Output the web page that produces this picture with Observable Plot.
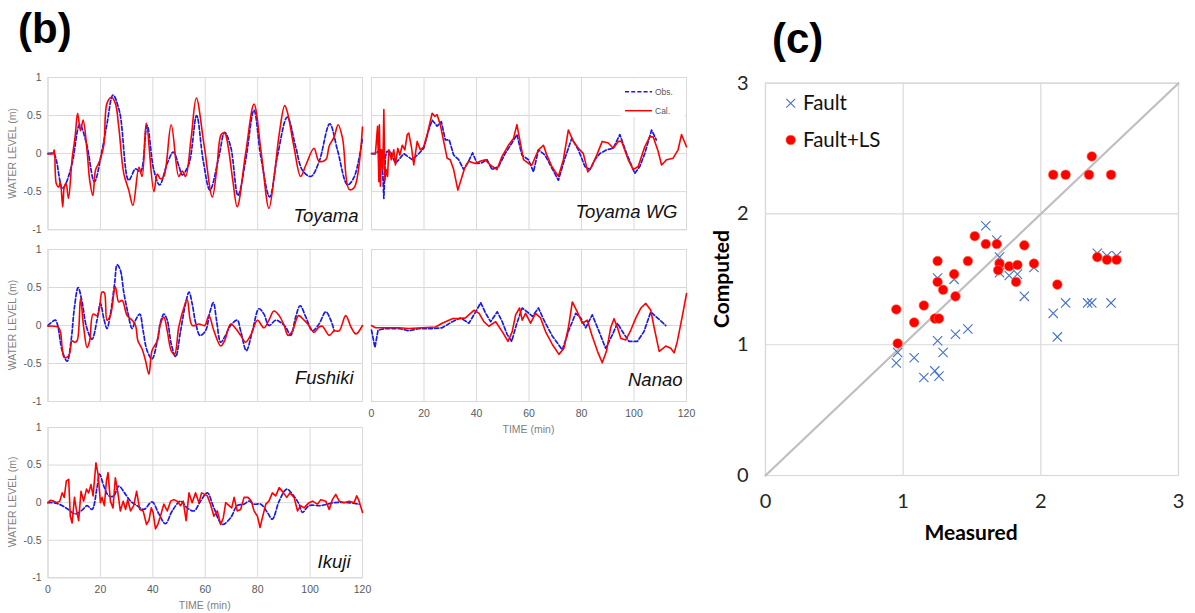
<!DOCTYPE html>
<html><head><meta charset="utf-8">
<script src="https://cdn.jsdelivr.net/npm/d3@7"></script>
<script src="https://cdn.jsdelivr.net/npm/@observablehq/plot@0.6"></script>
<style>
html,body{margin:0;padding:0;background:#fff;}
#root{position:relative;width:1195px;height:613px;overflow:hidden;background:#fff;}
#root > svg{position:absolute;}
</style></head><body><div id="root"></div>
<script>
// ---------- data ----------
const timeTicks = [0, 20, 40, 60, 80, 100, 120];
const levelTicks = [-1, -0.5, 0, 0.5, 1];
const scatterTicks = [0, 1, 2, 3];
const stationNames = ["Toyama", "Toyama WG", "Fushiki", "Nanao", "Ikuji"];
const seriesNames = ["Obs.", "Cal."];
const scatterNames = ["Fault", "Fault+LS"];

const toyamaObs = [[0,0],[2.2,0],[3.2,-0.09],[4.5,-0.35],[5.4,-0.46],[6.6,-0.41],[9.2,-0.13],[12.1,0.38],[14.7,0.13],[17.7,-0.37],[20.6,0.04],[22.5,0.39],[24.8,0.77],[27.3,0.55],[30.8,-0.35],[33.4,-0.2],[35.3,-0.24],[37.8,0.37],[40.4,-0.22],[42.6,-0.41],[45.5,-0.13],[47.8,0.02],[50,-0.17],[51.2,-0.28],[53.8,-0.13],[56.7,0.5],[59.2,-0.09],[61.8,-0.48],[65.2,-0.04],[67.4,0.28],[69.7,0.09],[72.5,-0.55],[75.4,-0.09],[78.6,0.57],[81.2,-0.04],[84.6,-0.57],[87.5,-0.04],[91.3,0.48],[94.5,0.09],[97.1,-0.22],[100.3,-0.3],[103.4,-0.11],[107.5,0.39],[110.5,0.04],[114.3,-0.41],[116.8,-0.31],[120,0.2]];
const toyamaCal = [[0,0],[1.9,0],[2.4,0.05],[3.2,-0.4],[4.1,-0.44],[4.7,-0.37],[5.6,-0.7],[6.2,-0.44],[6.9,-0.39],[7.8,-0.59],[9.2,-0.07],[10.4,0.24],[11.3,0.53],[12.4,0.3],[13.4,0.44],[14.9,0.04],[15.9,-0.35],[17.1,-0.55],[18.1,-0.22],[19,-0.15],[20,-0.07],[21.3,0.11],[22.5,0.66],[24.2,0.74],[25.7,0.66],[27,0.35],[28.9,-0.26],[30.8,-0.48],[32.4,-0.68],[34.7,-0.18],[35.9,-0.3],[37.5,0.4],[40.4,-0.5],[41.7,-0.27],[42.9,-0.33],[44.2,-0.3],[47,0.38],[49.9,-0.3],[51.2,-0.23],[52.5,-0.3],[54.6,0.2],[56.6,0.73],[59.6,0.1],[62.7,-0.57],[64.4,-0.2],[66.1,0.25],[67.4,0.27],[68.7,0.1],[70.5,-0.35],[72.2,-0.7],[75.4,0],[78.6,0.65],[81.4,0],[84.3,-0.72],[86.3,-0.3],[88.2,0.25],[90.3,0.63],[91.3,0.55],[93.8,0.1],[96.4,-0.3],[98.4,-0.15],[101.5,0.07],[103.4,-0.1],[106,-0.08],[107.3,0.1],[109.2,0.22],[110.7,0.38],[112.4,0.2],[114.9,-0.47],[116.8,-0.45],[120,0.35]];

const wgObs = [[0,0],[1.5,0],[3.4,0.05],[4.1,-0.13],[4.7,-0.59],[5.3,-0.04],[5.9,0.03],[7.2,0.03],[9.1,-0.13],[10.4,-0.08],[12.3,0],[15.5,-0.08],[18,0],[19.9,0.07],[21.8,0.31],[23.1,0.44],[25,0.36],[26.6,0.42],[28.1,0.18],[29.6,0.18],[31.3,-0.02],[33.2,-0.08],[35.1,-0.21],[37,-0.1],[38.5,0.01],[40.2,-0.13],[42.1,-0.12],[44,-0.08],[45.9,-0.21],[48.4,-0.17],[50.9,0],[53.5,0.14],[55.4,0.25],[57.3,-0.02],[59.8,-0.08],[61.7,-0.24],[63.6,0.05],[66.1,-0.02],[68.7,-0.19],[71.2,-0.35],[73.5,-0.08],[76.3,0.2],[78.8,0.05],[81.3,-0.17],[83.2,-0.21],[85.1,-0.08],[87,0],[89.6,0.05],[92.1,0.07],[94.6,0.25],[97.2,0],[100.3,-0.26],[102.2,-0.17],[104.1,0],[106.7,0.31],[108.5,0.18]];
const wgCal = [[0,0],[1.5,0],[2.3,0.36],[2.8,-0.37],[3,0.38],[3.4,-0.43],[3.8,0.05],[4.3,-0.21],[4.7,0.58],[5.1,-0.35],[5.6,-0.21],[6.1,-0.3],[6.6,0.05],[7.6,-0.08],[8.5,0.05],[9.1,-0.15],[10,0.07],[10.8,-0.02],[11.7,0.11],[12.7,0.05],[13.6,0.25],[14.2,0.27],[15.2,0.09],[16.1,-0.15],[17.4,0.16],[18.6,0.05],[19.9,0.09],[21.2,0.25],[23.1,0.53],[24.1,0.49],[25,0.51],[26.2,0.38],[27.5,0.16],[28.8,-0.06],[30,-0.08],[31.3,-0.21],[32.9,-0.48],[34.5,-0.3],[35.5,-0.19],[37,-0.1],[39.5,-0.13],[41.4,-0.1],[43.3,-0.08],[45.2,-0.15],[47.8,-0.21],[49.7,-0.04],[52.2,0.11],[54.1,0.2],[55.4,0.38],[56.6,0.16],[57.9,-0.08],[59.8,-0.13],[61.1,-0.15],[63.6,0.05],[65.5,0.11],[66.8,-0.02],[68.7,-0.17],[71.2,-0.3],[73.1,-0.08],[75,0.31],[76.9,0.16],[78.8,0.07],[80.7,0],[82.4,-0.24],[83.9,-0.17],[85.8,-0.02],[87.9,0.16],[90.2,0.14],[92.1,0.07],[94,0.16],[95.3,0.16],[97.8,-0.08],[99.7,-0.21],[101.6,-0.17],[104.1,0.09],[106,0.22],[107.3,0.22],[109.2,0.03],[110.5,-0.15],[112.4,-0.08],[114.9,-0.06],[116.8,0.05],[118.1,0.25],[120,0.09]];

const fushikiObs = [[0,0],[2.8,0.07],[3.7,0],[5.4,-0.33],[7.3,-0.47],[8.8,-0.2],[10.1,0.24],[11.5,0.5],[13,0.31],[14.7,-0.02],[16.8,-0.18],[18.7,0.07],[20,0.29],[21.3,0.09],[22.5,-0.04],[23.8,0.15],[25.4,0.55],[26.4,0.8],[27.6,0.73],[28.9,0.44],[30.4,0.18],[32.1,-0.04],[33.4,0.07],[35,0.15],[36.3,-0.07],[37.8,-0.33],[39.7,-0.44],[41.7,-0.2],[42.9,0.04],[44.2,0.15],[45.5,0.07],[47,-0.24],[48.7,-0.41],[50.6,-0.07],[52.5,0.29],[53.8,0.44],[55,0.29],[56.3,0.04],[58,-0.13],[60.1,-0.07],[61.8,0.18],[63.1,0.3],[64.3,0.07],[65.9,-0.22],[67.4,-0.15],[69.7,0],[72.2,0.07],[73.5,-0.07],[75.7,-0.33],[78,-0.07],[80.5,0.22],[82.4,0.15],[84.3,0],[86.9,0.07],[88.8,0.04],[90.7,-0.02],[92.6,-0.13],[94.5,0.11],[96.2,0.26],[98.4,0.11],[100.9,-0.07],[103.4,0.02],[106,0.18],[107.9,0.07],[109.2,-0.07]];
const fushikiCal = [[0,-0.01],[4.1,-0.03],[5.4,-0.29],[6.2,-0.42],[7.9,-0.4],[9.2,-0.2],[10.1,-0.22],[11.1,-0.2],[12.4,0.35],[13.6,-0.02],[14.9,-0.29],[15.9,-0.2],[17.2,0.15],[18.7,0.13],[19.7,0.24],[20.6,0.44],[21.5,0.43],[22.5,0.07],[23.8,0.13],[25.7,0.51],[27,0.31],[28.3,0.33],[30.2,0.13],[32.1,0.07],[33.4,0],[34.3,-0.2],[35.9,-0.31],[37.2,-0.46],[38.5,-0.64],[39.7,-0.33],[41.7,-0.2],[42.9,0.02],[44.2,0.11],[45.5,-0.07],[47,-0.33],[48.3,-0.38],[49.9,-0.02],[51.9,0.24],[53.1,0.34],[55,0],[57.6,0.02],[59.8,0],[61.4,0.13],[63.3,-0.07],[65.9,-0.27],[67.4,-0.2],[69.7,0.02],[71.6,-0.04],[73.5,-0.13],[75.4,-0.22],[77.6,-0.11],[79.9,0.07],[82.4,-0.03],[84.3,0.07],[86.2,0.19],[88.2,0.13],[90.1,0],[91.6,-0.13],[93.3,-0.07],[95.6,0.13],[97.7,0.07],[99.6,0],[101.5,-0.09],[103.4,-0.02],[104.7,-0.01],[107.3,-0.13],[109.2,-0.07],[111.1,-0.07],[113.6,0.13],[115.6,-0.02],[117.5,-0.11],[120,0]];

const nanaoObs = [[0,-0.06],[1.3,-0.29],[2.5,-0.06],[5.3,-0.04],[10.4,-0.04],[14.2,-0.07],[18,-0.04],[23.1,-0.04],[26.9,-0.03],[30.8,0.05],[33.9,0.1],[37.1,0.03],[39.7,0.18],[41.6,0.3],[43.5,0.16],[45.4,0.05],[47.9,0.18],[49.8,0.05],[51.7,-0.12],[53.4,-0.21],[55.2,0.01],[57.4,0.23],[59.3,0.18],[61.3,0.12],[63.6,0.23],[65.7,0.07],[68.9,-0.14],[72.7,-0.32],[75.2,-0.06],[77.8,0.16],[79.7,0.1],[81.6,-0.03],[84.1,0.14],[86.7,-0.08],[89.2,-0.3],[91.8,-0.12],[93.7,0.03],[95.6,-0.08],[98.1,-0.21],[101.3,-0.21],[103.8,-0.08],[106.4,0.18],[108.9,0.1],[112.1,0]];
const nanaoCal = [[0,0],[1.5,-0.03],[5.3,-0.03],[10.4,-0.03],[14.2,-0.04],[19.3,-0.03],[24.4,-0.02],[26.9,0.03],[30.8,0.09],[33.9,0.09],[35.8,0.1],[39,0.2],[41,0.16],[42.8,0.05],[44.7,-0.01],[47.3,0.05],[49.8,-0.08],[52,-0.21],[53.6,-0.08],[54.9,0.14],[56.4,0.23],[57.4,0.07],[58.7,0.16],[60.6,0.03],[62.5,0.16],[64.4,0.1],[66.3,-0.08],[68.9,-0.25],[71.4,-0.38],[73.3,-0.3],[75,-0.03],[76.5,0.31],[78.4,0.18],[80.3,0.03],[82.2,0.07],[84.1,-0.14],[86.1,-0.34],[87.9,-0.49],[89.5,-0.34],[91.1,-0.03],[92.4,0.09],[93.7,-0.03],[95,-0.17],[96.9,-0.19],[98.8,-0.06],[100.7,0.1],[102.6,0.23],[104.5,0.29],[106.4,0.2],[107.7,-0.03],[109.6,-0.34],[112.1,-0.27],[114,-0.3],[115.3,-0.36],[116.5,-0.21],[118.5,0.14],[120,0.42]];

const ikujiObs = [[0,0],[3.4,-0.01],[7.3,-0.08],[10.4,-0.15],[13,-0.1],[14.9,-0.04],[16.8,-0.09],[18.7,0.2],[19.7,0.38],[21.3,0.22],[23.2,0.09],[25.1,0.09],[27,0.22],[29.2,0.13],[31.5,0.02],[34,-0.04],[36.6,-0.09],[39.7,0.01],[42.3,-0.15],[44.8,-0.28],[47.4,-0.11],[50.6,0.02],[53.1,-0.07],[55.7,-0.11],[58.2,0.02],[60.8,0.13],[63.3,-0.07],[66.5,-0.29],[69.7,-0.2],[72.2,-0.04],[74.8,-0.02],[76.7,0.02],[78.6,-0.02],[81.2,-0.02],[83.7,-0.13],[85.6,-0.22],[88.2,0.02],[91.1,0.18],[93.3,0.11],[95.8,-0.02],[97.1,-0.13],[99.6,-0.04],[104.1,-0.04],[109.2,0],[114.3,0],[118.7,-0.02]];
const ikujiCal = [[0,0],[0.9,0.03],[2.2,0.02],[3.4,0],[4.5,0.02],[5.4,0.13],[6.2,0.07],[7,0.29],[7.9,0.31],[8.5,-0.18],[9.2,-0.27],[10.1,0.07],[10.8,-0.09],[11.7,-0.24],[12.6,0.15],[13.6,0.02],[14.7,0.18],[15.5,0.13],[16.4,0.24],[17.2,0.09],[18.3,0.53],[19.1,0.38],[20,0],[20.6,0.07],[21.5,-0.04],[22.3,0.29],[22.9,0.4],[23.8,0.02],[24.8,-0.07],[25.7,0.33],[26.6,0.15],[27.6,-0.11],[28.7,0.02],[29.6,-0.09],[30.4,0.04],[31.5,-0.11],[32.7,-0.04],[33.8,0.15],[35,-0.09],[36.3,-0.11],[37.6,-0.29],[38.5,-0.24],[39.4,-0.07],[40.1,-0.13],[41,-0.35],[41.9,-0.29],[42.9,-0.18],[44.2,-0.02],[45.5,-0.11],[46.8,0.02],[48,0.04],[49.3,0.02],[50.6,-0.04],[51.6,0.02],[52.7,-0.24],[53.8,0.13],[55,0],[56.3,0.13],[57.6,0],[58.6,0.13],[59.8,0.11],[60.8,0.09],[62,-0.02],[63.3,-0.18],[64.6,-0.11],[65.9,-0.29],[66.9,-0.2],[67.8,0],[69.1,-0.04],[70.1,-0.07],[71,0.07],[72.2,-0.11],[73.5,-0.09],[74.8,0.07],[76.3,0.07],[77.6,0.02],[78.6,-0.11],[79.9,-0.18],[80.9,-0.33],[81.8,-0.2],[83.1,-0.02],[84.3,0.02],[85.6,0.13],[86.9,0.09],[88.2,0.2],[89.4,0.15],[91.1,0.07],[92.3,0.13],[93.9,0.07],[95.2,-0.11],[96.4,-0.04],[97.7,-0.07],[99.6,0],[100.9,0.02],[102.8,-0.02],[104.1,0.04],[106,0.02],[107.3,-0.09],[108.5,0.04],[109.8,0.11],[111.1,0.02],[113,0],[114.9,0.02],[116.8,0],[117.8,0.09],[118.7,0.02],[120,-0.13]];

// scatter: [measured, computed]
const fault = [[1.60,1.91],[1.68,1.80],[1.70,1.67],[1.25,1.51],[1.37,1.50],[1.70,1.55],[1.77,1.53],[1.83,1.54],[1.95,1.59],[1.88,1.37],[2.09,1.24],[2.12,1.06],[2.18,1.32],[2.34,1.32],[2.37,1.32],[2.51,1.32],[2.41,1.70],[2.48,1.68],[2.55,1.68],[1.38,1.08],[1.47,1.12],[1.25,1.03],[1.29,0.94],[1.08,0.90],[0.96,0.94],[0.95,0.86],[1.15,0.75],[1.23,0.80],[1.26,0.76]];
const faultLS = [[0.95,1.27],[0.96,1.01],[1.08,1.17],[1.15,1.30],[1.23,1.20],[1.26,1.20],[1.25,1.64],[1.25,1.48],[1.29,1.42],[1.37,1.54],[1.38,1.37],[1.47,1.64],[1.52,1.83],[1.60,1.77],[1.68,1.77],[1.70,1.62],[1.69,1.57],[1.77,1.60],[1.83,1.61],[1.82,1.48],[1.88,1.76],[1.95,1.62],[2.12,1.46],[2.41,1.67],[2.48,1.65],[2.55,1.65],[2.09,2.30],[2.18,2.30],[2.35,2.30],[2.37,2.44],[2.51,2.30]];
const oneToOne = [0, 3];

// ---------- styles ----------
const SANS = "'Liberation Sans', Arial, sans-serif";
const LATO = "Lato, 'Open Sans', sans-serif";
const GRID = "#d9d9d9";
const BLUE = "#1a1ae6";
const RED = "#ff0000";
const XBLUE = "#4472c4";
const root = document.getElementById("root");

// panel geometry (plot-area pixel edges)
const cols = [[47.5, 362], [371, 686]];
const rows = [[77.3, 229.5], [249, 401], [426.7, 577]];

function drawPanel(p) {
  const [x0, x1] = cols[p.col], [y0, y1] = rows[p.row];
  const ml = p.col === 0 ? x0 : 8, mr = p.col === 0 ? 6 : 14, mt = 8, mb = p.showX ? 30 : 6;
  const svg = Plot.plot({
    width: ml + (x1 - x0) + mr, height: mt + (y1 - y0) + mb,
    marginLeft: ml, marginRight: mr, marginTop: mt, marginBottom: mb,
    style: {fontFamily: SANS, fontSize: "10.5px", color: "#595959", background: "transparent", overflow: "visible"},
    x: {domain: [0, 120], ticks: timeTicks, tickSize: 0, tickPadding: 8, axis: p.showX ? "bottom" : null, label: null},
    y: {domain: [-1, 1], ticks: levelTicks, tickSize: 0, tickPadding: 6.5, tickFormat: d => String(d), axis: p.showY ? "left" : null, label: null},
    marks: [
      Plot.ruleX(timeTicks, {stroke: GRID, strokeWidth: 1}),
      Plot.ruleY(levelTicks, {stroke: GRID, strokeWidth: 1}),
      Plot.frame({stroke: GRID}),
      Plot.line(p.obs, {x: d => d[0], y: d => d[1], stroke: BLUE, strokeWidth: 1.7, strokeDasharray: "4,2.2", curve: p.obsCurve}),
      Plot.line(p.cal, {x: d => d[0], y: d => d[1], stroke: RED, strokeWidth: 1.6, curve: p.calCurve}),
      Plot.text([p.name], {text: d => d, frameAnchor: "bottom-right", textAnchor: "end", lineAnchor: "middle", dx: p.dx, dy: p.dy, fontSize: 18.5, fontStyle: "italic", fill: "#111", fontFamily: SANS})
    ]
  });
  svg.style.left = (x0 - ml) + "px";
  svg.style.top = (y0 - mt) + "px";
  root.appendChild(svg);
}

drawPanel({col: 0, row: 0, obs: toyamaObs, cal: toyamaCal, name: stationNames[0], showY: true, showX: false, dx: -4, dy: -14, obsCurve: "catmull-rom", calCurve: "catmull-rom"});
drawPanel({col: 1, row: 0, obs: wgObs, cal: wgCal, name: stationNames[1], showY: false, showX: false, dx: -9, dy: -18, obsCurve: "linear", calCurve: "linear"});
drawPanel({col: 0, row: 1, obs: fushikiObs, cal: fushikiCal, name: stationNames[2], showY: true, showX: false, dx: -9, dy: -23, obsCurve: "catmull-rom", calCurve: "catmull-rom"});
drawPanel({col: 1, row: 1, obs: nanaoObs, cal: nanaoCal, name: stationNames[3], showY: false, showX: true, dx: -4, dy: -21, obsCurve: "linear", calCurve: "linear"});
drawPanel({col: 0, row: 2, obs: ikujiObs, cal: ikujiCal, name: stationNames[4], showY: true, showX: true, dx: -12, dy: -16, obsCurve: "catmull-rom", calCurve: "linear"});

// ---------- scatter (c) ----------
const sc = Plot.plot({
  width: 495, height: 500,
  marginLeft: 65, marginRight: 17, marginTop: 22.7, marginBottom: 85,
  style: {fontFamily: LATO, fontSize: "20px", color: "#262626", background: "transparent", overflow: "visible"},
  x: {domain: [0, 3], ticks: scatterTicks, tickSize: 0, tickPadding: 18, tickFormat: d => String(d), label: null},
  y: {domain: [0, 3], ticks: scatterTicks, tickSize: 0, tickPadding: 17, tickFormat: d => String(d), label: null},
  marks: [
    Plot.ruleX(scatterTicks, {stroke: GRID, strokeWidth: 1.2}),
    Plot.ruleY(scatterTicks, {stroke: GRID, strokeWidth: 1.2}),
    Plot.frame({stroke: GRID, strokeWidth: 1.2}),
    Plot.line(oneToOne.map(v => [v, v]), {x: d => d[0], y: d => d[1], stroke: "#bfbfbf", strokeWidth: 2.2}),
    Plot.dot(fault, {x: d => d[0], y: d => d[1], symbol: "times", r: 4.3, stroke: XBLUE, strokeWidth: 1.1}),
    Plot.dot(faultLS, {x: d => d[0], y: d => d[1], r: 4.8, fill: RED, stroke: "#ff6a40", strokeWidth: 0.6})
  ]
});
sc.style.left = "700px";
sc.style.top = "60px";
root.appendChild(sc);

// ---------- overlay texts & legends ----------
const ov = d3.select(root).append("svg").attr("width", 1195).attr("height", 613)
  .style("left", "0px").style("top", "0px").style("pointer-events", "none");

ov.append("text").attr("x", 18).attr("y", 43).attr("font-family", SANS).attr("font-weight", "bold")
  .attr("font-size", 42).attr("fill", "#000").text("(b)");
ov.append("text").attr("x", 772).attr("y", 53).attr("font-family", SANS).attr("font-weight", "bold")
  .attr("font-size", 42).attr("fill", "#000").text("(c)");

// y-axis titles of time series
[0, 1, 2].forEach(r => {
  const yc = (rows[r][0] + rows[r][1]) / 2;
  ov.append("text").attr("transform", `translate(16,${yc}) rotate(-90)`).attr("text-anchor", "middle")
    .attr("font-family", SANS).attr("font-size", 10.5).attr("fill", "#7f7f7f").text("WATER LEVEL (m)");
});
// x-axis titles
[[1, 1], [0, 2]].forEach(([c, r]) => {
  const xc = (cols[c][0] + cols[c][1]) / 2;
  ov.append("text").attr("x", xc).attr("y", rows[r][1] + 31.5).attr("text-anchor", "middle")
    .attr("font-family", SANS).attr("font-size", 10.5).attr("fill", "#7f7f7f").text("TIME (min)");
});

// legend in Toyama WG
ov.append("rect").attr("x", 621).attr("y", 78.5).attr("width", 64).attr("height", 38.5).attr("fill", "#fff");
ov.append("line").attr("x1", 625).attr("x2", 652).attr("y1", 91.7).attr("y2", 91.7)
  .attr("stroke", BLUE).attr("stroke-width", 1.6).attr("stroke-dasharray", "4,2.2");
ov.append("line").attr("x1", 625).attr("x2", 652).attr("y1", 110.7).attr("y2", 110.7)
  .attr("stroke", RED).attr("stroke-width", 1.5);
ov.append("text").attr("x", 655).attr("y", 94.5).attr("font-family", SANS).attr("font-size", 8.5).attr("fill", "#595959").text(seriesNames[0]);
ov.append("text").attr("x", 655).attr("y", 113.5).attr("font-family", SANS).attr("font-size", 8.5).attr("fill", "#595959").text(seriesNames[1]);

// legend in scatter
const lx = 790.7;
ov.append("path").attr("d", `M${lx - 4.4},${103.3 - 4.4}L${lx + 4.4},${103.3 + 4.4}M${lx - 4.4},${103.3 + 4.4}L${lx + 4.4},${103.3 - 4.4}`)
  .attr("stroke", XBLUE).attr("stroke-width", 1.1).attr("fill", "none");
ov.append("circle").attr("cx", lx).attr("cy", 140).attr("r", 4.8).attr("fill", RED).attr("stroke", "#ff6a40").attr("stroke-width", 0.6);
ov.append("text").attr("x", 803).attr("y", 110).attr("font-family", LATO).attr("font-size", 20.5).attr("fill", "#111").text(scatterNames[0]);
ov.append("text").attr("x", 803).attr("y", 147).attr("font-family", LATO).attr("font-size", 20.5).attr("fill", "#111").text(scatterNames[1]);

// scatter axis titles
ov.append("text").attr("x", 971).attr("y", 540).attr("text-anchor", "middle").attr("font-family", LATO)
  .attr("font-weight", "bold").attr("font-size", 21).attr("fill", "#000").text("Measured");
ov.append("text").attr("transform", "translate(729,279) rotate(-90)").attr("text-anchor", "middle").attr("font-family", LATO)
  .attr("font-weight", "bold").attr("font-size", 21).attr("fill", "#000").text("Computed");
</script></body></html>
